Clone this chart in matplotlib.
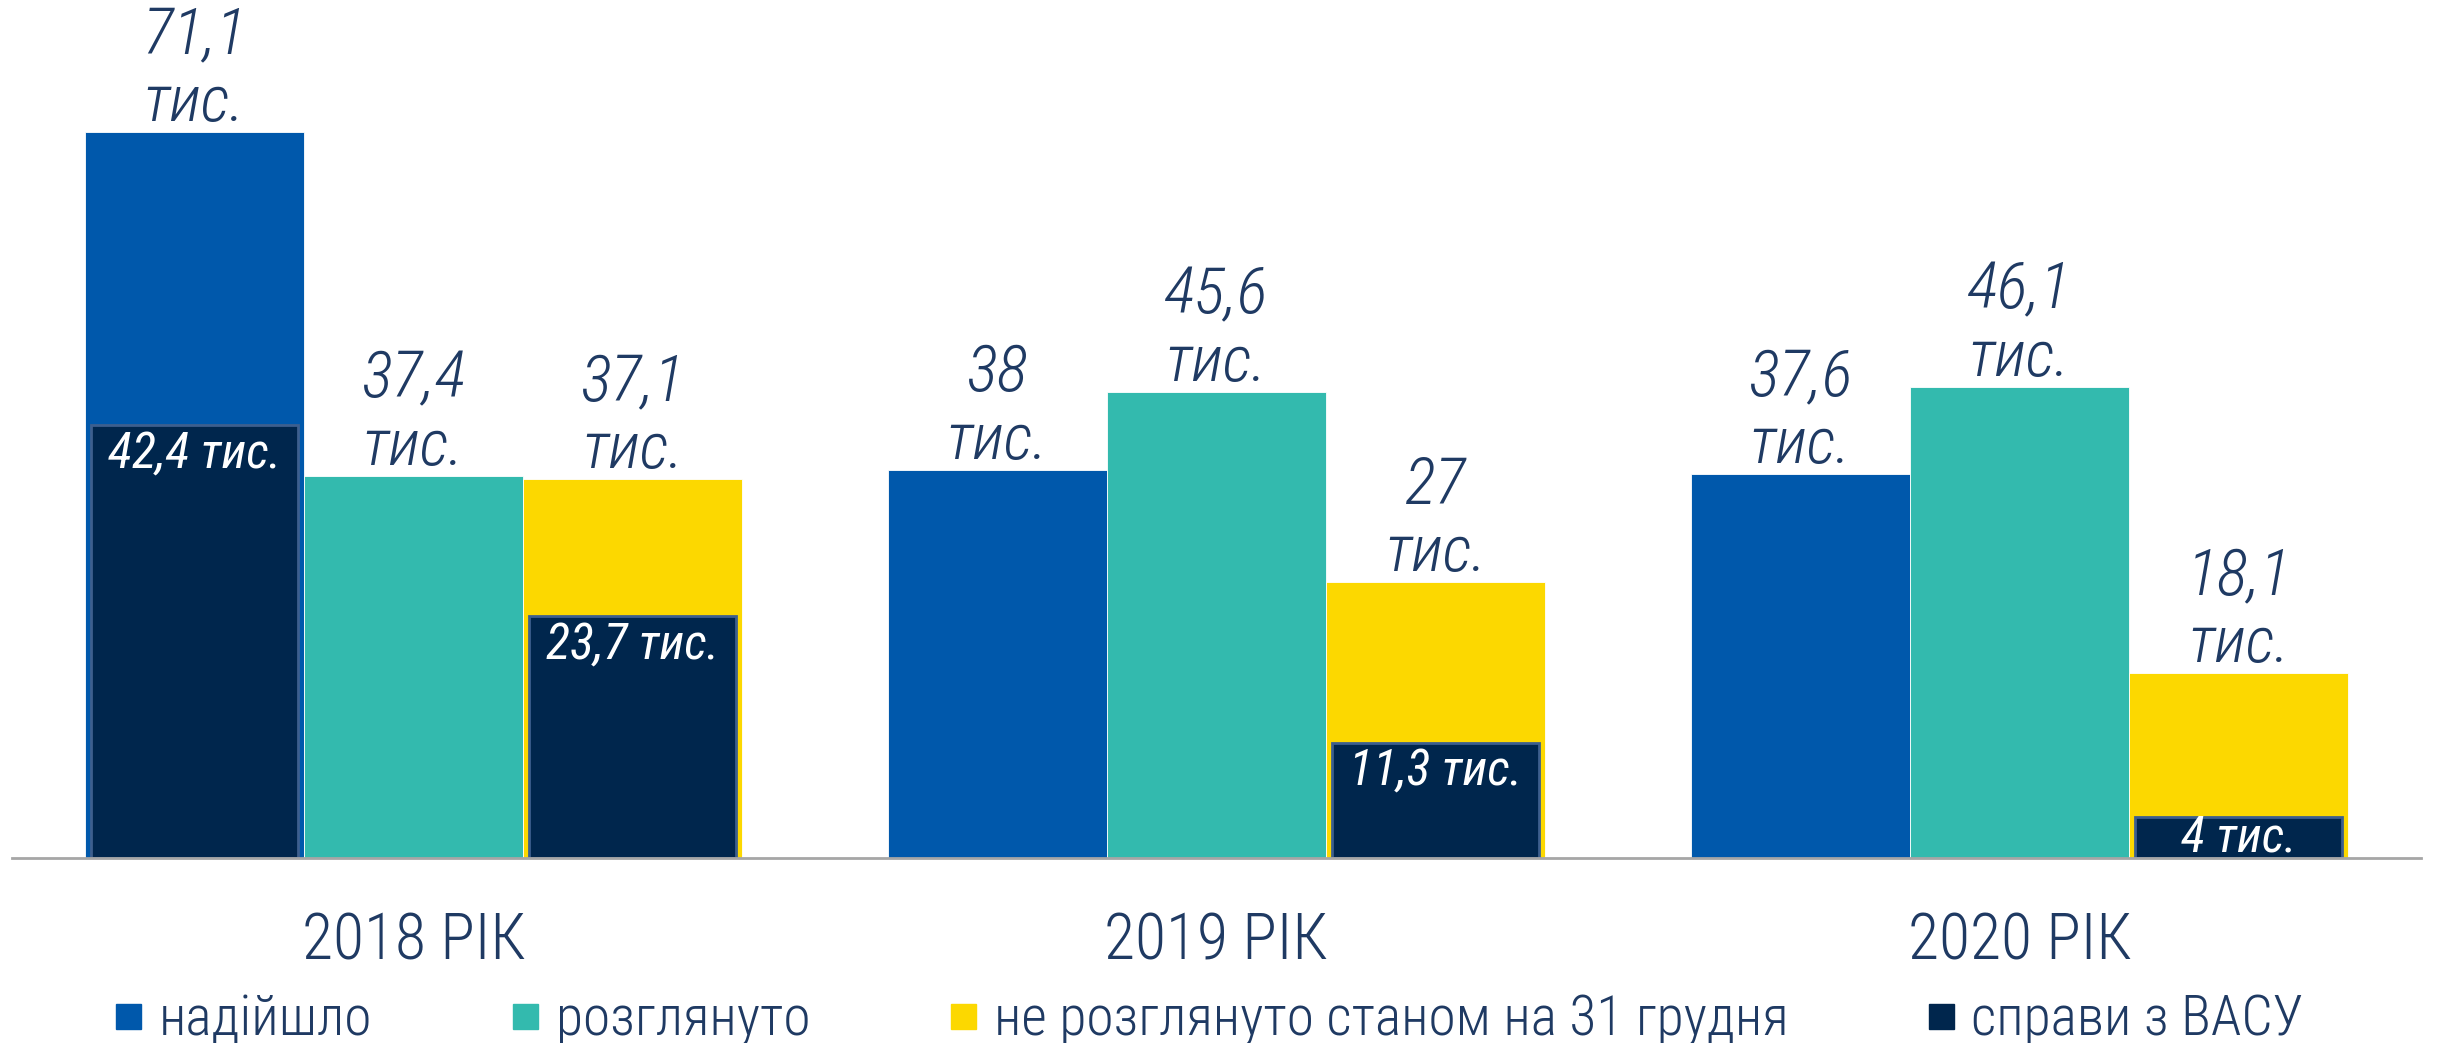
import matplotlib
matplotlib.use("Agg")
import matplotlib.pyplot as plt
from matplotlib.lines import Line2D
import numpy as np

# data (тис. справ)
years = ["2018 РІК", "2019 РІК", "2020 РІК"]
received = [71.1, 38, 37.6]
reviewed = [37.4, 45.6, 46.1]
pending = [37.1, 27, 18.1]
vasu_in_received = [42.4, 0, 0]
vasu_in_pending = [23.7, 11.3, 4]
series_names = ["надійшло", "розглянуто", "не розглянуто станом на 31 грудня", "справи з ВАСУ"]

BLUE = "#0058AB"
TEAL = "#33BAAE"
YELLOW = "#FCD800"
DARK = "#00264D"
TEXT = "#1F3A63"

plt.rcParams["font.family"] = ["Roboto Condensed", "Roboto", "DejaVu Sans"]
plt.rcParams["font.weight"] = "light"


def fmt(v):
    return f"{v:g}".replace(".", ",")


fig = plt.figure(figsize=(24.37, 10.43), dpi=100)
ax = fig.add_axes([12 / 2437, 0.1774, 2409 / 2437, 0.8226])

x = np.arange(len(years))
w = 0.273
inner_w = 0.258

groups = [(received, BLUE, -w), (reviewed, TEAL, 0), (pending, YELLOW, w)]
for vals, color, off in groups:
    ax.bar(x + off, vals, w, color=color, edgecolor="white", linewidth=0.6, zorder=2)
    for xi, v in zip(x, vals):
        ax.annotate(f"{fmt(v)}\nтис.", (xi + off, v), xytext=(0, -2), textcoords="offset points",
                    ha="center", va="bottom", fontsize=47, style="italic", color=TEXT,
                    linespacing=1.12)

# dark boxes: cases from ВАСУ inside the bars
for vals, off in [(vasu_in_received, -w), (vasu_in_pending, w)]:
    for xi, v in zip(x, vals):
        if not v:
            continue
        ax.bar(xi + off, v, inner_w, color=DARK, edgecolor="#3D5F8E", linewidth=2, zorder=3)
        ax.text(xi + off, v - min(v / 2, 2.8), f"{fmt(v)} тис.", ha="center", va="center",
                fontsize=36, style="italic", weight="normal", color="white", zorder=6)

ax.set_xlim(-0.5, 2.5)
ax.set_ylim(0, 84)
for s in ["top", "right", "left"]:
    ax.spines[s].set_visible(False)
ax.spines["bottom"].set_color("#A6A6A6")
ax.spines["bottom"].set_linewidth(2)
ax.spines["bottom"].set_zorder(5)
ax.set_yticks([])
ax.set_xticks(x)
ax.set_xticklabels(years, fontsize=46, color=TEXT)
ax.tick_params(axis="x", length=0, pad=38)

handles = [Line2D([], [], marker="s", linestyle="none", markersize=18, color=c)
           for c in [BLUE, TEAL, YELLOW, DARK]]
fig.legend(handles, series_names, loc="center left", bbox_to_anchor=(0.047, 0.022),
           ncol=4, frameon=False, fontsize=40, labelcolor=TEXT, handlelength=0.5,
           handletextpad=0.3, columnspacing=2.5, borderpad=0, borderaxespad=0)

fig.savefig("out.png", dpi=100)
